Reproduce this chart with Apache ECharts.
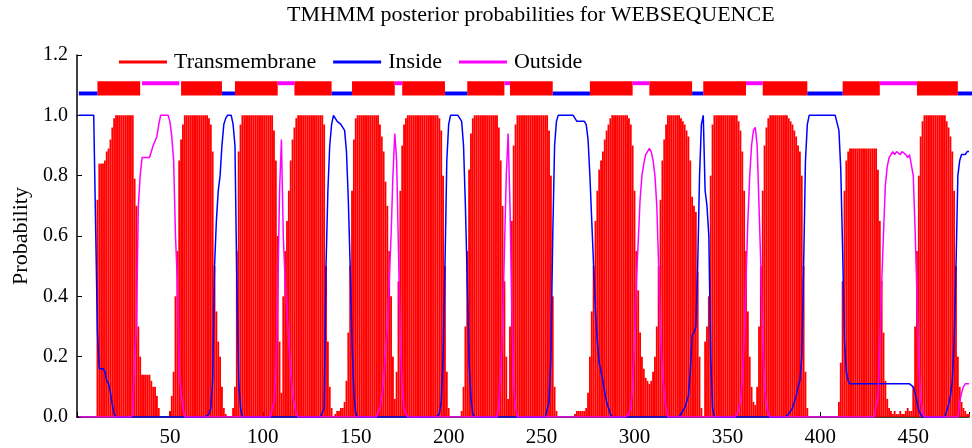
<!DOCTYPE html>
<html>
<head>
<meta charset="utf-8">
<title>TMHMM posterior probabilities for WEBSEQUENCE</title>
<script src="https://cdn.jsdelivr.net/npm/echarts@6/dist/echarts.min.js"></script>
<style>
  html, body { margin: 0; padding: 0; background: #fff; }
  #chart { width: 972px; height: 448px; }
</style>
</head>
<body>
<div id="chart"></div>
<script>
(function () {
  'use strict';

  // posterior probabilities, residue 1..480, 20 residues per row
  const transmembrane = [
    0,0,0,0,0,0,0,0,0,0,0.72,0.84,0.84,0.84,0.85,0.88,0.89,0.92,0.96,0.99,
    1,1,1,1,1,1,1,1,1,1,0.79,0.7,0.3,0.2,0.14,0.14,0.14,0.14,0.14,0.12,
    0.1,0.1,0.07,0.03,0,0,0,0,0,0.02,0.07,0.15,0.4,0.55,0.85,0.92,0.97,1,1,1,
    1,1,1,1,1,1,1,1,1,1,0.99,0.97,0.88,0.5,0.35,0.25,0.2,0.1,0.03,0.01,
    0,0,0,0.03,0.1,0.55,0.88,0.97,1,1,1,1,1,1,1,1,1,1,1,1,
    1,1,1,1,1,0.95,0.85,0.6,0.25,0.08,0.4,0.55,0.65,0.75,0.85,0.92,0.96,0.99,1,1,
    1,1,1,1,1,1,1,1,1,1,1,1,0.97,0.5,0.25,0.1,0.03,0,0.01,0.02,
    0.02,0.03,0.03,0.05,0.12,0.28,0.5,0.75,0.92,0.99,1,1,1,1,1,1,1,1,1,1,
    1,1,0.97,0.93,0.88,0.78,0.7,0.55,0.4,0.2,0.06,0.15,0.45,0.75,0.9,0.97,0.99,1,1,1,
    1,1,1,1,1,1,1,1,1,1,1,1,1,1,0.99,0.95,0.8,0.5,0.15,0.03,
    0,0,0,0,0,0,0.02,0.1,0.3,0.55,0.82,0.94,0.99,1,1,1,1,1,1,1,
    1,1,1,1,1,1,0.96,0.85,0.7,0.45,0.2,0.06,0.3,0.65,0.9,0.97,1,1,1,1,
    1,1,1,1,1,1,1,1,1,1,1,1,1,0.95,0.8,0.4,0.1,0.02,0,0,
    0,0,0,0,0,0,0,0.01,0.02,0.02,0.02,0.02,0.02,0.03,0.08,0.2,0.35,0.5,0.65,0.75,
    0.82,0.85,0.88,0.92,0.95,0.97,0.99,1,1,1,1,1,1,1,1,1,0.99,0.97,0.9,0.75,
    0.55,0.42,0.28,0.2,0.16,0.13,0.12,0.11,0.12,0.15,0.2,0.3,0.5,0.72,0.85,0.92,0.97,1,1,1,
    1,1,1,1,0.99,0.98,0.97,0.95,0.93,0.85,0.73,0.7,0.68,0.48,0.2,0.03,0,0.25,0.3,0.4,
    0.8,0.97,1,1,1,1,1,1,1,1,1,1,1,1,1,0.98,0.95,0.88,0.75,0.55,
    0.35,0.2,0.1,0.05,0.04,0.1,0.3,0.5,0.75,0.9,0.96,0.99,1,1,1,1,1,1,1,1,
    1,1,0.99,0.98,0.97,0.95,0.93,0.9,0.88,0.8,0.5,0.15,0.03,0,0,0,0,0,0,0,
    0,0,0,0,0,0,0,0,0,0.05,0.18,0.45,0.75,0.85,0.88,0.89,0.89,0.89,0.89,0.89,
    0.89,0.89,0.89,0.89,0.89,0.89,0.89,0.89,0.89,0.89,0.82,0.65,0.45,0.28,0.12,0.06,0.03,0.02,0.01,0.02,
    0.01,0.01,0.02,0.01,0.01,0.02,0.03,0.02,0.02,0.1,0.3,0.55,0.8,0.93,0.98,1,1,1,1,1,
    1,1,1,1,1,1,1,0.98,0.96,0.93,0.88,0.75,0.5,0.2,0.1,0.05,0.03,0.02,0.01,0.01
  ];

  const inside = [
    1,1,1,1,1,1,1,1,1,1,0.28,0.16,0.16,0.16,0.15,0.12,0.11,0.08,0.04,0.01,
    0,0,0,0,0,0,0,0,0,0,0,0,0,0,0,0,0,0,0,0,
    0,0,0,0,0,0,0,0,0,0,0,0,0,0,0,0,0,0,0,0,
    0,0,0,0,0,0,0,0,0,0,0.01,0.03,0.12,0.5,0.65,0.75,0.8,0.9,0.97,0.99,
    1,1,1,0.97,0.9,0.45,0.12,0.03,0,0,0,0,0,0,0,0,0,0,0,0,
    0,0,0,0,0,0,0,0,0,0,0,0,0,0,0,0,0,0,0,0,
    0,0,0,0,0,0,0,0,0,0,0,0,0.03,0.5,0.75,0.9,0.97,1,0.99,0.98,
    0.98,0.97,0.97,0.95,0.88,0.72,0.5,0.25,0.08,0.01,0,0,0,0,0,0,0,0,0,0,
    0,0,0,0,0,0,0,0,0,0,0,0,0,0,0,0,0,0,0,0,
    0,0,0,0,0,0,0,0,0,0,0,0,0,0,0.01,0.05,0.2,0.5,0.85,0.97,
    1,1,1,1,1,1,0.98,0.9,0.7,0.45,0.18,0.06,0.01,0,0,0,0,0,0,0,
    0,0,0,0,0,0,0,0,0,0,0,0,0,0,0,0,0,0,0,0,
    0,0,0,0,0,0,0,0,0,0,0,0,0,0.05,0.2,0.6,0.9,0.98,1,1,
    1,1,1,1,1,1,1,0.99,0.98,0.98,0.98,0.98,0.98,0.97,0.92,0.8,0.65,0.5,0.35,0.25,
    0.18,0.15,0.12,0.08,0.05,0.03,0.01,0,0,0,0,0,0,0,0,0,0,0,0,0,
    0,0,0,0,0,0,0,0,0,0,0,0,0,0,0,0,0,0,0,0,
    0,0,0,0,0.01,0.02,0.03,0.05,0.07,0.15,0.27,0.28,0.3,0.5,0.8,0.97,1,0.75,0.7,0.6,
    0.2,0.03,0,0,0,0,0,0,0,0,0,0,0,0,0,0,0,0,0,0,
    0,0,0,0,0,0,0,0,0,0,0,0,0,0,0,0,0,0,0,0,
    0,0,0.01,0.02,0.03,0.05,0.07,0.1,0.12,0.2,0.5,0.85,0.97,1,1,1,1,1,1,1,
    1,1,1,1,1,1,1,1,1,0.95,0.82,0.55,0.25,0.15,0.12,0.11,0.11,0.11,0.11,0.11,
    0.11,0.11,0.11,0.11,0.11,0.11,0.11,0.11,0.11,0.11,0.11,0.11,0.11,0.11,0.11,0.11,0.11,0.11,0.11,0.11,
    0.11,0.11,0.11,0.11,0.11,0.11,0.11,0.11,0.11,0.1,0.08,0.05,0.02,0.01,0,0,0,0,0,0,
    0,0,0,0,0,0,0,0.02,0.04,0.07,0.12,0.25,0.5,0.8,0.85,0.87,0.87,0.87,0.88,0.88
  ];

  const outside = [
    0,0,0,0,0,0,0,0,0,0,0,0,0,0,0,0,0,0,0,0,
    0,0,0,0,0,0,0,0,0,0.01,0.2,0.3,0.7,0.8,0.86,0.86,0.86,0.86,0.86,0.88,
    0.9,0.9,0.93,0.97,1,1,1,1,1,0.98,0.93,0.85,0.6,0.45,0.15,0.08,0.03,0,0,0,
    0,0,0,0,0,0,0,0,0,0,0,0,0,0,0,0,0,0,0,0,
    0,0,0,0,0,0,0,0,0,0,0,0,0,0,0,0,0,0,0,0,
    0,0,0,0,0,0.05,0.15,0.4,0.75,0.92,0.6,0.45,0.35,0.25,0.15,0.08,0.04,0.01,0,0,
    0,0,0,0,0,0,0,0,0,0,0,0,0,0,0,0,0,0,0,0,
    0,0,0,0,0,0,0,0,0,0,0,0,0,0,0,0,0,0,0,0,
    0,0,0.03,0.07,0.12,0.22,0.3,0.45,0.6,0.8,0.94,0.85,0.55,0.25,0.1,0.03,0.01,0,0,0,
    0,0,0,0,0,0,0,0,0,0,0,0,0,0,0,0,0,0,0,0,
    0,0,0,0,0,0,0,0,0,0,0,0,0,0,0,0,0,0,0,0,
    0,0,0,0,0,0,0.04,0.15,0.3,0.55,0.8,0.94,0.7,0.35,0.1,0.03,0,0,0,0,
    0,0,0,0,0,0,0,0,0,0,0,0,0,0,0,0,0,0,0,0,
    0,0,0,0,0,0,0,0,0,0,0,0,0,0,0,0,0,0,0,0,
    0,0,0,0,0,0,0,0,0,0,0,0,0,0,0,0,0.01,0.03,0.1,0.25,
    0.45,0.58,0.72,0.8,0.84,0.87,0.88,0.89,0.88,0.85,0.8,0.7,0.5,0.28,0.15,0.08,0.03,0,0,0,
    0,0,0,0,0,0,0,0,0,0,0,0,0,0,0,0,0,0,0,0,
    0,0,0,0,0,0,0,0,0,0,0,0,0,0,0,0.02,0.05,0.12,0.25,0.45,
    0.65,0.8,0.9,0.95,0.96,0.9,0.7,0.5,0.25,0.1,0.04,0.01,0,0,0,0,0,0,0,0,
    0,0,0,0,0,0,0,0,0,0,0,0,0,0,0,0,0,0,0,0,
    0,0,0,0,0,0,0,0,0,0,0,0,0,0,0,0,0,0,0,0,
    0,0,0,0,0,0,0,0,0,0,0.07,0.24,0.44,0.61,0.77,0.83,0.86,0.87,0.88,0.87,
    0.88,0.88,0.87,0.88,0.88,0.87,0.86,0.87,0.87,0.8,0.62,0.4,0.18,0.06,0.02,0,0,0,0,0,
    0,0,0,0,0,0,0,0,0,0,0,0,0,0,0.05,0.08,0.1,0.11,0.11,0.11
  ];

  // predicted topology drawn above the curves: [from, to]
  const tmSegments = [[11, 34], [56, 78], [85, 108], [117, 137], [148, 171], [175, 198], [210, 230],
    [233, 256], [276, 299], [308, 331], [337, 360], [369, 393], [412, 432], [452, 474]];
  const insideSegments = [[1, 11], [78, 85], [137, 148], [198, 210], [256, 276], [331, 337], [393, 412], [474, 482]];
  const outsideSegments = [[35, 55], [108, 117], [171, 175], [230, 233], [299, 308], [360, 369], [432, 452]];

  const FONT = '"Liberation Serif", "Times New Roman", serif';
  const RED = '#ff0000', BLUE = '#0000ff', MAGENTA = '#ff00ff';

  // kind -> [low, high] in probability units, and colour
  const bandLevels = [[1.066, 1.113], [1.066, 1.079], [1.1, 1.113]];
  const bandColors = [RED, BLUE, MAGENTA];

  const bandData = []
    .concat(tmSegments.map(s => [s[0], s[1], 0]))
    .concat(insideSegments.map(s => [s[0], s[1], 1]))
    .concat(outsideSegments.map(s => [s[0], s[1], 2]));

  const toPoints = arr => arr.map((v, i) => [i + 1, v]);

  function renderBand(params, api) {
    const kind = api.value(2);
    const lv = bandLevels[kind];
    const p0 = api.coord([api.value(0), lv[1]]);
    const p1 = api.coord([api.value(1), lv[0]]);
    return {
      type: 'rect',
      shape: { x: p0[0], y: p0[1], width: p1[0] - p0[0], height: p1[1] - p0[1] },
      style: { fill: bandColors[kind] }
    };
  }

  const chart = echarts.init(document.getElementById('chart'));

  chart.setOption({
    animation: false,
    backgroundColor: '#fff',
    title: {
      text: 'TMHMM posterior probabilities for WEBSEQUENCE',
      left: 287,
      top: 4,
      padding: 0,
      textStyle: { fontFamily: FONT, fontSize: 22, fontWeight: 'normal', color: '#000' }
    },
    legend: {
      left: 119,
      top: 51,
      padding: 0,
      itemWidth: 48,
      itemHeight: 3,
      itemGap: 17,
      icon: 'rect',
      textStyle: { fontFamily: FONT, fontSize: 22, color: '#000', padding: [0, 0, 0, 2] },
      data: [
        { name: 'Transmembrane', itemStyle: { color: RED } },
        { name: 'Inside', itemStyle: { color: BLUE } },
        { name: 'Outside', itemStyle: { color: MAGENTA } }
      ]
    },
    grid: { left: 77, right: -2, top: 55, bottom: 30.5 },
    xAxis: {
      type: 'value',
      min: 0,
      max: 480,
      interval: 50,
      splitLine: { show: false },
      axisLine: { lineStyle: { color: '#000', width: 1.5 } },
      axisTick: { inside: true, length: 5, lineStyle: { color: '#000' } },
      axisLabel: {
        margin: 10,
        fontFamily: FONT,
        fontSize: 21,
        color: '#000',
        formatter: v => (v > 0 && v % 50 === 0) ? String(v) : ''
      }
    },
    yAxis: {
      type: 'value',
      min: 0,
      max: 1.2,
      interval: 0.2,
      name: 'Probability',
      nameLocation: 'middle',
      nameGap: 43,
      nameTextStyle: { fontFamily: FONT, fontSize: 22, color: '#000' },
      splitLine: { show: false },
      axisLine: { show: true, lineStyle: { color: '#000', width: 1.5 } },
      axisTick: { show: true, inside: true, length: 5, lineStyle: { color: '#000' } },
      axisLabel: {
        margin: 9,
        fontFamily: FONT,
        fontSize: 20,
        color: '#000',
        formatter: v => v.toFixed(1)
      }
    },
    series: [
      {
        name: 'Transmembrane',
        type: 'bar',
        barWidth: 1.85,
        itemStyle: { color: RED },
        data: toPoints(transmembrane)
      },
      {
        name: 'Inside',
        type: 'line',
        symbol: 'none',
        lineStyle: { color: BLUE, width: 1.5 },
        itemStyle: { color: BLUE },
        data: toPoints(inside)
      },
      {
        name: 'Outside',
        type: 'line',
        symbol: 'none',
        lineStyle: { color: MAGENTA, width: 1.5 },
        itemStyle: { color: MAGENTA },
        data: toPoints(outside)
      },
      {
        name: 'topology',
        type: 'custom',
        renderItem: renderBand,
        encode: { x: [0, 1] },
        clip: false,
        data: bandData
      }
    ]
  });

  window.addEventListener('resize', () => chart.resize());
})();
</script>
</body>
</html>
